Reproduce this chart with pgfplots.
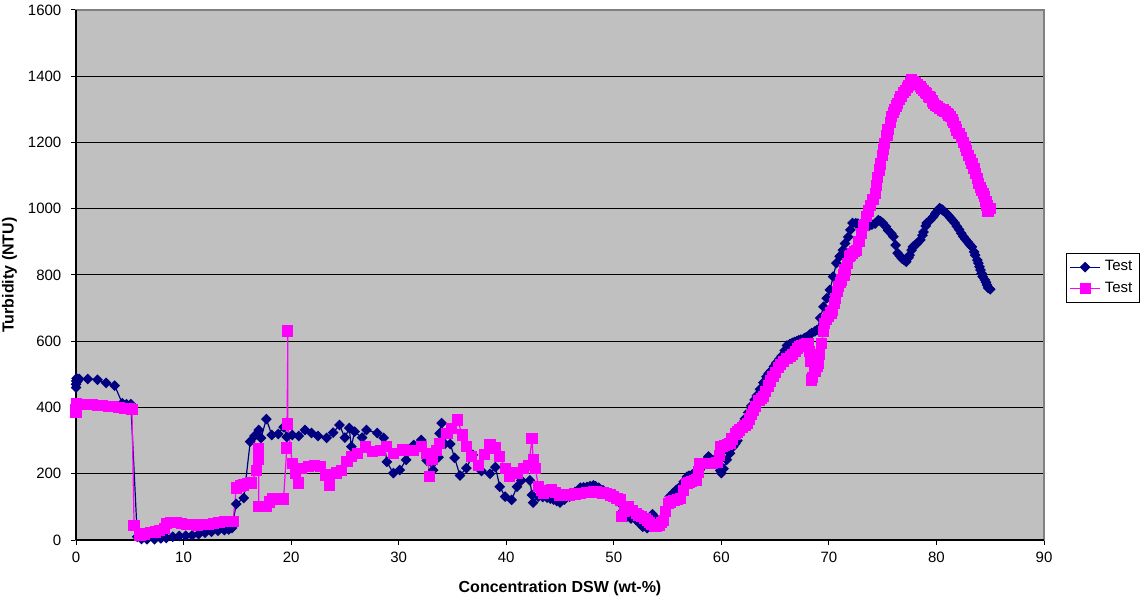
\documentclass[border=0pt]{standalone}
\usepackage{pgfplots}
\pgfplotsset{compat=1.18}
\usepackage{fontspec}
\setmainfont{Liberation Sans}
\definecolor{xlnavy}{RGB}{0,0,128}
\definecolor{xlmag}{RGB}{255,0,255}
\definecolor{xlbg}{RGB}{192,192,192}
\definecolor{xlframe}{RGB}{128,128,128}

\pgfplotstableread{
x y
0.0 460
0.0 470
0.02 480
0.05 488
0.1 478
0.15 485
0.3 486
1.1 486
2.0 484
2.8 474
3.6 466
4.3 413
4.7 410
5.1 410
5.7 10
6.1 3
6.6 2
7.3 2
7.9 5
8.4 6
9.0 10
9.6 12
10.2 13
10.8 14
11.4 18
12.0 22
12.6 25
13.2 28
13.8 30
14.2 32
14.5 36
14.9 109
15.6 127
16.2 297
16.6 314
17.0 332
17.2 308
17.7 365
18.2 317
18.8 320
19.3 341
19.6 311
20.1 317
20.7 314
21.3 332
21.9 323
22.5 314
23.3 308
23.9 324
24.5 347
25.0 309
25.4 338
25.6 282
25.9 327
26.6 309
27.0 332
28.0 323
28.6 308
28.9 236
29.5 202
30.1 211
30.7 242
31.4 287
32.1 302
32.6 240
33.2 211
33.7 250
33.8 322
34.0 353
34.3 290
34.8 290
35.2 248
35.7 195
36.3 217
36.9 257
37.7 208
38.5 200
39.0 220
39.4 161
39.9 131
40.5 121
41.0 161
41.4 180
42.2 180
42.4 136
42.5 113
43.0 131
43.4 130
43.8 128
44.1 125
44.4 122
44.7 118
45.0 113
45.4 122
45.9 131
46.4 145
46.9 158
47.2 159
47.5 160
47.8 163
48.1 165
48.3 162
48.6 158
49.0 150
49.3 141
49.6 133
50.0 125
50.3 118
50.6 111
50.9 90
51.2 70
51.6 65
52.1 60
52.4 50
52.7 40
53.1 36
53.4 60
53.6 78
53.8 68
54.1 55
54.3 50
54.5 45
54.8 90
55.2 131
55.5 141
55.8 151
56.0 156
56.2 161
56.5 176
56.8 191
57.0 194
57.3 198
57.5 200
57.8 202
58.0 212
58.3 225
58.5 238
58.8 252
59.0 246
59.3 240
59.5 235
59.7 230
59.9 210
60.0 202
60.2 215
60.5 242
60.8 262
61.1 282
61.3 291
61.5 300
61.7 320
62.0 353
62.2 366
62.5 385
62.8 405
63.1 423
63.3 436
63.6 455
63.9 475
64.2 493
64.4 502
64.6 510
64.9 524
65.1 534
65.4 546
65.6 555
65.9 572
66.1 587
66.4 592
66.6 595
66.8 598
67.0 600
67.2 603
67.4 605
67.7 609
67.9 612
68.2 620
68.4 625
68.7 630
68.9 634
69.2 670
69.5 704
69.8 730
70.1 755
70.4 795
70.7 836
71.0 856
71.3 875
71.5 895
71.8 915
72.0 936
72.2 957
72.5 956
72.7 955
73.0 953
73.2 951
73.5 949
73.7 948
74.0 952
74.3 955
74.6 966
74.8 962
75.0 957
75.3 946
75.5 935
75.8 925
76.0 916
76.2 890
76.4 866
76.6 858
76.8 850
77.0 845
77.2 840
77.4 852
77.5 860
77.7 875
77.8 885
78.0 890
78.2 895
78.5 906
78.7 920
78.8 930
79.0 948
79.1 957
79.4 965
79.7 976
79.9 985
80.0 990
80.2 997
80.3 1002
80.5 998
80.6 995
80.9 987
81.1 980
81.3 972
81.5 965
81.7 957
81.9 947
82.1 937
82.3 926
82.5 916
82.7 908
82.9 900
83.1 892
83.3 885
83.5 870
83.6 860
83.8 845
83.9 836
84.0 825
84.1 815
84.2 805
84.3 795
84.5 785
84.6 778
84.7 770
84.8 761
85.0 757
}\testone

\pgfplotstableread{
x y
0.0 385
0.0 395
0.02 405
0.05 412
0.2 410
0.5 410
1.0 409
1.5 408
2.0 407
2.5 405
3.0 404
3.5 402
4.0 400
4.5 398
5.0 397
5.2 395
5.4 43
5.95 15
6.4 18
6.9 22
7.4 24
7.8 28
8.2 35
8.4 51
8.8 52
9.3 52
9.8 50
10.3 48
10.8 47
11.3 45
11.8 46
12.3 47
12.8 49
13.3 52
13.8 55
14.2 56
14.6 56
14.9 157
15.3 163
15.6 166
16.0 170
16.3 172
16.8 211
17.0 242
17.0 275
17.0 101
17.4 100
17.7 100
18.0 115
18.3 124
18.8 124
19.3 124
19.6 278
19.7 631
19.7 350
20.1 232
20.4 200
20.7 172
21.0 217
21.6 221
22.2 224
22.7 221
23.2 196
23.6 166
24.2 202
24.7 211
25.2 236
25.6 252
26.2 262
26.9 281
27.6 267
28.3 270
28.9 282
29.5 262
30.4 272
31.4 269
32.1 282
32.6 260
32.9 191
33.1 242
33.5 270
33.8 292
34.5 322
34.9 337
35.5 362
35.9 317
36.3 282
36.8 252
37.4 226
38.0 257
38.5 287
39.0 278
39.4 252
39.9 216
40.3 191
41.0 202
41.6 216
42.1 226
42.4 307
42.5 242
42.7 217
43.0 161
43.3 150
43.5 141
43.8 146
44.2 151
44.6 143
45.0 136
45.4 136
45.9 136
46.4 139
46.9 141
47.5 143
48.1 146
48.4 145
48.7 143
49.0 142
49.3 141
49.7 136
50.0 131
50.3 126
50.6 121
50.7 70
51.0 85
51.4 100
51.7 90
52.1 80
52.3 75
52.6 70
52.9 65
53.1 60
53.3 54
53.5 48
53.8 40
54.0 42
54.2 45
54.4 52
54.6 60
54.8 85
55.1 111
55.3 115
55.6 120
55.9 123
56.2 126
56.5 150
56.8 171
57.0 174
57.2 176
57.5 179
57.7 181
57.9 205
58.0 231
58.3 231
58.6 231
58.9 231
59.2 231
59.6 235
59.8 255
59.9 282
60.1 283
60.3 285
60.6 288
60.8 292
61.0 305
61.3 320
61.5 326
61.7 332
62.0 340
62.2 345
62.4 352
62.6 365
62.8 378
63.0 390
63.2 402
63.5 420
63.7 428
63.9 433
64.1 448
64.4 465
64.6 480
64.8 493
65.0 505
65.3 520
65.5 530
65.8 540
66.1 547
66.4 553
66.6 560
66.9 570
67.1 578
67.3 584
67.5 587
67.7 590
67.9 592
68.1 594
68.2 570
68.3 540
68.4 483
68.5 490
68.7 510
68.9 525
69.0 533
69.1 560
69.3 594
69.5 630
69.6 654
69.8 665
70.0 674
70.2 685
70.3 694
70.5 715
70.6 730
70.8 750
70.9 765
71.1 778
71.2 785
71.4 800
71.5 815
71.7 835
71.9 855
72.0 860
72.2 865
72.4 870
72.6 875
72.8 900
73.0 925
73.2 950
73.5 976
73.7 993
73.9 1010
74.1 1028
74.3 1047
74.4 1070
74.5 1095
74.7 1117
74.8 1135
75.0 1160
75.1 1180
75.2 1198
75.4 1220
75.5 1240
75.7 1260
75.8 1278
76.0 1290
76.1 1300
76.3 1310
76.4 1318
76.6 1330
76.7 1340
76.9 1350
77.1 1358
77.3 1367
77.4 1372
77.6 1382
77.7 1389
77.9 1384
78.0 1380
78.2 1375
78.5 1369
78.6 1364
78.8 1358
79.0 1352
79.1 1348
79.3 1340
79.4 1335
79.6 1325
79.7 1318
79.9 1312
80.1 1308
80.3 1303
80.6 1298
80.8 1293
81.0 1288
81.1 1283
81.3 1278
81.5 1268
81.6 1260
81.8 1248
81.9 1238
82.1 1228
82.3 1215
82.5 1200
82.7 1187
82.8 1175
83.0 1160
83.2 1148
83.3 1137
83.5 1122
83.6 1107
83.8 1092
83.9 1077
84.1 1065
84.2 1055
84.4 1045
84.5 1036
84.6 1022
84.7 1010
84.8 991
85.0 1000
}\testtwo

\begin{document}
\begin{tikzpicture}
\begin{axis}[
  name=ax,
  scale only axis,
  width=484pt, height=265pt,
  xmin=0, xmax=90, ymin=0, ymax=1600,
  xtick={0,10,...,90},
  ytick={0,200,...,1600},
  tick align=outside,
  tick pos=left,
  major tick length=2.5pt,
  tick style={black, line width=0.5pt},
  ymajorgrids,
  grid style={black, line width=0.5pt},
  axis background/.style={fill=xlbg},
  axis line style={draw=xlframe, line width=1pt},
  clip=false,
  /pgf/number format/assume math mode=true,
  /pgf/number format/1000 sep={},
  ticklabel style={font=\fontsize{7.5}{9}\selectfont},
  yticklabel style={xshift=-1.3pt},
  xlabel={\textbf{Concentration DSW (wt-\%)}},
  ylabel={\textbf{Turbidity (NTU)}},
  label style={font=\fontsize{8}{9.6}\selectfont},
  x label style={at={(axis description cs:0.5,-0.0906)}, anchor=center},
  y label style={at={(axis description cs:-0.0687,0.5)}, anchor=center},
  legend style={
    at={(1.0227,0.5415)}, anchor=north west,
    draw=black, line width=0.5pt, fill=white,
    font=\fontsize{7.5}{9}\selectfont,
    row sep=0pt, inner sep=1.5pt,
    legend cell align=left,
  },
  legend image code/.code={%
    \draw[mark repeat=2, mark phase=2] plot coordinates {(0cm,0cm) (0.265cm,0cm) (0.53cm,0cm)};
  },
]
\draw[black, line width=0.6pt] (rel axis cs:0,0) -- (rel axis cs:0,1);
\draw[black, line width=0.6pt] (rel axis cs:0,0) -- (rel axis cs:1,0);
\addplot[color=xlnavy, line width=0.6pt, mark=square*, mark size=1.6pt,
  mark options={rotate=45, solid, fill=xlnavy, draw=xlnavy}] table[x=x,y=y] {\testone};
\addlegendentry{Test}
\addplot[color=xlmag, line width=0.6pt, mark=square*, mark size=2.5pt,
  mark options={solid, fill=xlmag, draw=xlmag}] table[x=x,y=y] {\testtwo};
\addlegendentry{Test}
\end{axis}
\pgfresetboundingbox
\path ([xshift=-38pt,yshift=-29pt]ax.south west) rectangle ([xshift=48.5pt,yshift=5pt]ax.north east);
\end{tikzpicture}
\end{document}
